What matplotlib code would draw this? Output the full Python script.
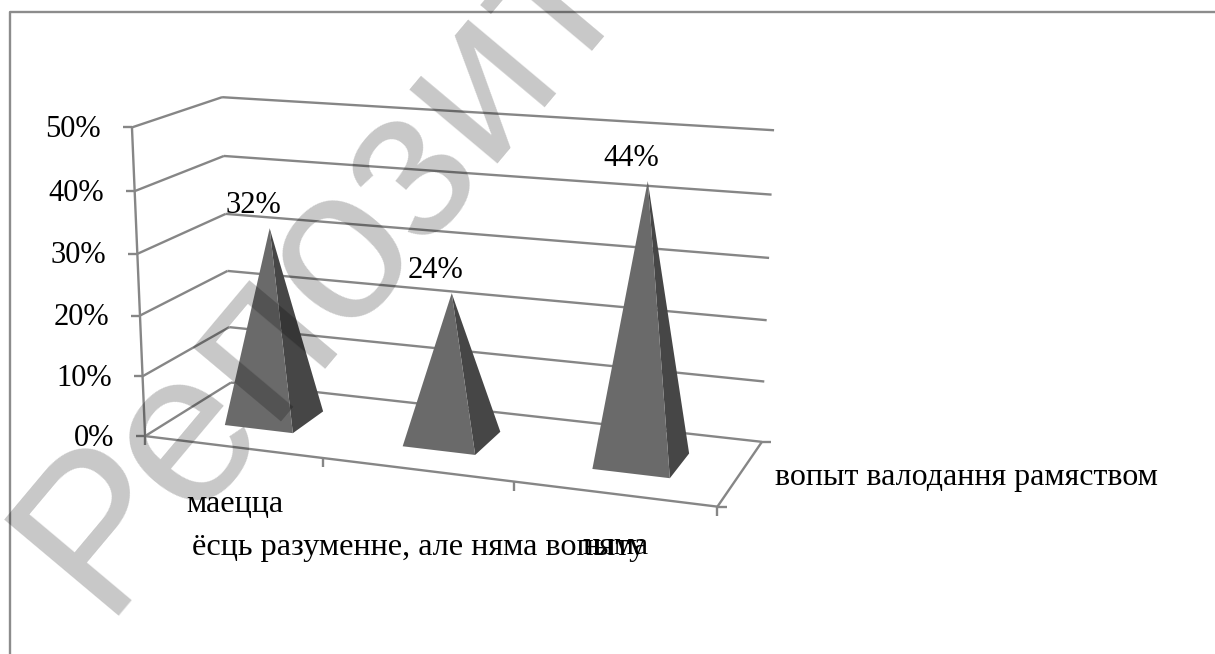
import numpy as np
import matplotlib
matplotlib.use('Agg')
import matplotlib.pyplot as plt
from matplotlib.patches import Polygon

plt.rcParams['font.family'] = ['Liberation Serif', 'DejaVu Serif']

# --- data ---
categories = ['маецца', 'ёсць разуменне, але няма вопыту', 'няма']
values = [32, 24, 44]
value_labels = ['32%', '24%', '44%']
grid_values = [0, 10, 20, 30, 40, 50]
tick_labels = ['0%', '10%', '20%', '30%', '40%', '50%']
series_name = 'вопыт валодання рамяством'

LINE = '#868686'
W, H = 1215, 654

# --- camera: fit a projection from the box corners ---
# (u along categories 0-1, d depth 0-1, v value 0-50) -> pixel
corners = [
    (0, 0, 0, 145, 436), (0, 0, 10, 142, 377), (0, 0, 20, 140, 316),
    (0, 0, 30, 138, 253), (0, 0, 40, 135, 191), (0, 0, 50, 132, 127),
    (0, 1, 0, 231, 382), (0, 1, 10, 229, 327), (0, 1, 20, 228, 271),
    (0, 1, 30, 226, 215), (0, 1, 40, 223, 156), (0, 1, 50, 222, 97),
    (1, 1, 0, 762, 441), (1, 1, 10, 764, 382), (1, 1, 20, 767, 320),
    (1, 1, 30, 770, 258), (1, 1, 40, 772, 195), (1, 1, 50, 773, 130),
    (1, 0, 0, 717, 507),
]
A, b = [], []
for u, d, v, px, py in corners:
    A.append([u, d, v, 1, 0, 0, 0, 0, -px * u, -px * d, -px * v])
    b.append(px)
    A.append([0, 0, 0, 0, u, d, v, 1, -py * u, -py * d, -py * v])
    b.append(py)
cam = np.linalg.lstsq(np.array(A, float), np.array(b, float), rcond=None)[0]
cam = np.append(cam, 1).reshape(3, 4)


def proj(u, d, v):
    x, y, w = cam @ np.array([u, d, v, 1.0])
    return x / w, y / w


fig = plt.figure(figsize=(W / 100, H / 100), dpi=100)
ax = fig.add_axes([0, 0, 1, 1])
ax.set_xlim(0, W)
ax.set_ylim(H, 0)
ax.axis('off')


def line(p, q, z=2, lw=1.7, c=LINE):
    ax.plot([p[0], q[0]], [p[1], q[1]], color=c, lw=lw, zorder=z, solid_capstyle='butt')


# chart frame: only the top and left edges are inside the crop
ax.plot([10, 10, W], [H, 12, 12], color='#8c8c8c', lw=1.7, zorder=1)

# walls and gridlines
for v, lab in zip(grid_values, tick_labels):
    fl, bl, br = proj(0, 0, v), proj(0, 1, v), proj(1, 1, v)
    line(fl, bl)
    line(bl, br)
    line((fl[0] - 9, fl[1]), fl)
    ax.text(fl[0] - 31, fl[1] + 2, lab, ha='right', va='center', fontsize=22, zorder=5)
line(proj(0, 0, 0), proj(0, 0, 50))

# floor
fl, fr, br = proj(0, 0, 0), proj(1, 0, 0), proj(1, 1, 0)
line(fl, fr)
line(fr, br)
line(br, (br[0] + 9, br[1]))
line(fr, (fr[0] + 10, fr[1]))
for k in range(4):
    p = proj(k / 3, 0, 0)
    line(p, (p[0], p[1] + 9))

# pyramids
half_left, half_right, half_d = 0.065, 0.065, 0.195
for i, (val, lab) in enumerate(zip(values, value_labels)):
    uc = (i + 0.5) / 3
    apex = proj(uc, 0.5, val)
    a = proj(uc - half_left, 0.5 - half_d, 0)
    c = proj(uc + half_right, 0.5 - half_d, 0)
    e = proj(uc + half_right, 0.5 + half_d, 0)
    ax.add_patch(Polygon([apex, c, e], fc='#464646', ec='none', zorder=3))
    ax.add_patch(Polygon([apex, a, c], fc='#6a6a6a', ec='none', zorder=3.1))
    ax.text(apex[0] - 16, apex[1] - 23, lab, ha='center', va='center', fontsize=22, zorder=5)

# category and series labels
ax.text(186, 505, categories[0], ha='left', va='center', fontsize=23.2, zorder=5)
ax.text(192, 547, categories[1], ha='left', va='center', fontsize=23.2, zorder=5)
ax.text(582, 547, categories[2], ha='left', va='center', fontsize=23.2, zorder=5)
ax.text(775, 478, series_name, ha='left', va='center', fontsize=23, zorder=5)

# watermark
ax.text(101, 616, 'Репозит', family='Liberation Sans', fontsize=157, color='black', alpha=0.22,
        rotation=50, rotation_mode='anchor', ha='left', va='baseline', zorder=10)

fig.savefig('out.png', dpi=100)
